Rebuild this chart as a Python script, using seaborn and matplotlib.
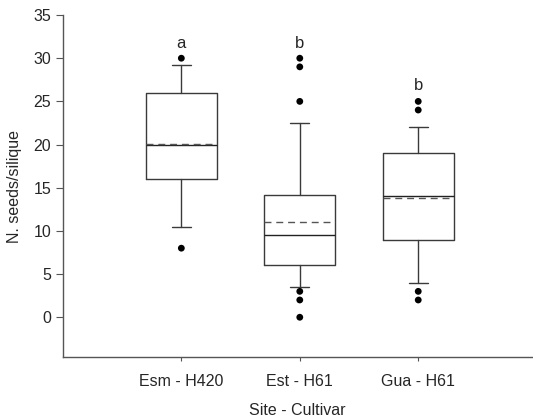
import matplotlib
matplotlib.use('Agg')
import matplotlib.pyplot as plt
import seaborn as sns
import pandas as pd

# Box summaries (SigmaPlot style: whiskers at 10th/90th percentile)
sites = ['Esm - H420', 'Est - H61', 'Gua - H61']
q1 = [16, 6, 9]
medians = [20, 9.5, 14]
q3 = [26, 14.2, 19]
means = [20.1, 11, 13.8]
whisker_low = [10.4, 3.5, 4]
whisker_high = [29.2, 22.5, 22]
outliers = [[30, 8], [30, 29, 25, 3, 2, 0], [25, 24, 3, 2]]
letters = ['a', 'b', 'b']
letter_y = [31.7, 31.7, 26.8]

sns.set_style('ticks')
plt.rcParams['font.family'] = ['Liberation Sans', 'DejaVu Sans']

fig, ax = plt.subplots(figsize=(5.33, 4.18), dpi=100)
fig.subplots_adjust(left=0.118, right=0.998, top=0.964, bottom=0.146)

# Build box stats
stats = []
for i in range(len(sites)):
    stats.append(dict(label=sites[i], q1=q1[i], med=medians[i], q3=q3[i],
                      mean=means[i], whislo=whisker_low[i], whishi=whisker_high[i],
                      fliers=[]))

line_col = '#3a3a3a'
ax.bxp(stats, positions=range(len(sites)), widths=0.6, capwidths=0.16,
       showmeans=True, meanline=True, showfliers=False,
       boxprops=dict(color=line_col, lw=1),
       medianprops=dict(color='#222222', lw=1),
       meanprops=dict(color='#555555', ls=(0, (5, 3.5)), lw=1),
       whiskerprops=dict(color=line_col, lw=1),
       capprops=dict(color=line_col, lw=1))

# Outliers as black dots
flier_df = pd.DataFrame({
    'pos': [i for i in range(len(sites)) for _ in outliers[i]],
    'value': [v for vals in outliers for v in vals],
})
sns.scatterplot(data=flier_df, x='pos', y='value', color='black', s=24,
                edgecolor='none', ax=ax, zorder=3)

# Significance letters
for i in range(len(sites)):
    ax.text(i, letter_y[i], letters[i], ha='center', va='center', fontsize=12)

ax.set_xticks(range(len(sites)))
ax.set_xticklabels(sites, fontsize=11.5)
ax.set_yticks(range(0, 36, 5))
ax.tick_params(axis='y', labelsize=11.5, length=5, color='#555555')
ax.tick_params(axis='x', length=3, color='#555555', pad=9)
ax.set_xlim(-1, 2.96)
ax.set_ylim(-4.6, 35)
ax.set_xlabel('Site - Cultivar', fontsize=11.5, labelpad=10)
ax.set_ylabel('N. seeds/silique', fontsize=11.5, labelpad=8)

sns.despine(ax=ax)
for side in ['left', 'bottom']:
    ax.spines[side].set_color('#555555')
    ax.spines[side].set_linewidth(1)

fig.savefig('out.png', dpi=100)
